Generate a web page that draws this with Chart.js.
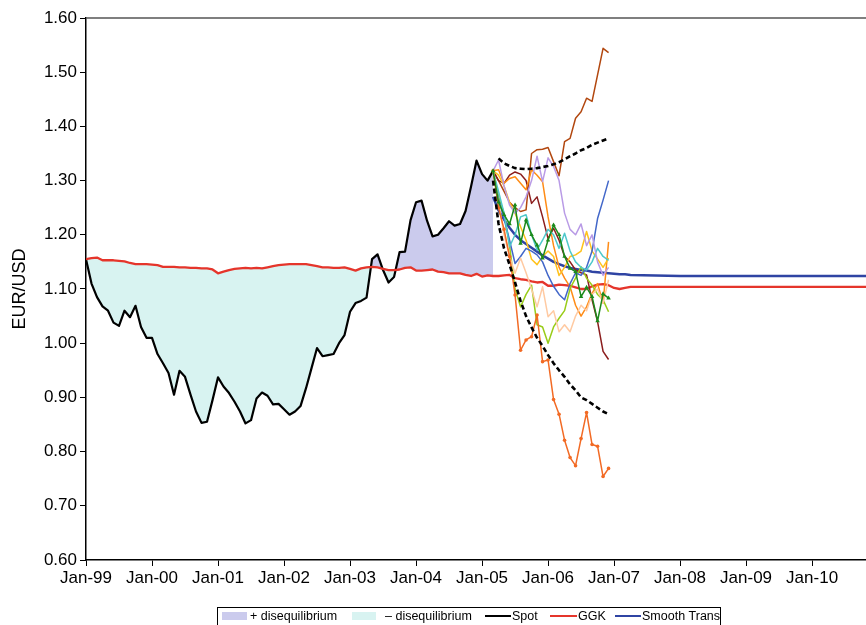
<!DOCTYPE html>
<html>
<head>
<meta charset="utf-8">
<script src="https://cdn.jsdelivr.net/npm/chart.js@4/dist/chart.umd.min.js"></script>
<style>
  html, body { margin: 0; padding: 0; background: #fff; }
  #wrap { width: 866px; height: 625px; }
</style>
</head>
<body>
<div id="wrap"><canvas id="c" width="866" height="625"></canvas></div>
<script>
// x axis: months counted from Jan-99
const tickLabels = ['Jan-99','Jan-00','Jan-01','Jan-02','Jan-03','Jan-04','Jan-05','Jan-06','Jan-07','Jan-08','Jan-09','Jan-10'];
const keyLabels = ['+ disequilibrium', '\u2013 disequilibrium', 'Spot', 'GGK', 'Smooth Trans'];

// EUR/USD spot, monthly Jan-99 .. Mar-05
const spot = [
  1.155, 1.110, 1.085, 1.068, 1.060, 1.038, 1.032, 1.060, 1.048, 1.069, 1.030, 1.010,
  1.010, 0.980, 0.963, 0.945, 0.905, 0.949, 0.938, 0.905, 0.874, 0.853, 0.855, 0.895,
  0.937, 0.920, 0.908, 0.892, 0.874, 0.852, 0.858, 0.898, 0.909, 0.903, 0.887, 0.888,
  0.878, 0.868, 0.874, 0.884, 0.917, 0.954, 0.991, 0.976, 0.978, 0.980, 1.000, 1.015,
  1.058, 1.074, 1.078, 1.084, 1.155, 1.164, 1.135, 1.112, 1.122, 1.168, 1.169, 1.227,
  1.260, 1.263, 1.226, 1.197, 1.200, 1.212, 1.225, 1.217, 1.220, 1.244, 1.289, 1.337,
  1.312, 1.300, 1.318
];

// GGK equilibrium, monthly from Jan-99, then a flat tail
const ggk = [
  1.155, 1.157, 1.158, 1.153, 1.153, 1.153, 1.152, 1.151, 1.148, 1.146, 1.146, 1.146,
  1.145, 1.144, 1.141, 1.141, 1.141, 1.140, 1.140, 1.139, 1.139, 1.138, 1.138, 1.136,
  1.129, 1.132, 1.135, 1.137, 1.138, 1.139, 1.138, 1.139, 1.138, 1.140, 1.142, 1.144,
  1.145, 1.146, 1.146, 1.146, 1.146, 1.144, 1.142, 1.140, 1.140, 1.139, 1.139, 1.140,
  1.137, 1.134, 1.138, 1.140, 1.141, 1.140, 1.137, 1.135, 1.135, 1.136, 1.139, 1.140,
  1.134, 1.134, 1.135, 1.136, 1.132, 1.131, 1.129, 1.129, 1.129, 1.126, 1.124, 1.128,
  1.123, 1.125, 1.124, 1.124, 1.125, 1.126, 1.120, 1.118, 1.117, 1.114, 1.112, 1.113,
  1.106, 1.106, 1.108, 1.107, 1.106, 1.103, 1.100, 1.100, 1.105, 1.108, 1.109, 1.107,
  1.102, 1.100, 1.102, 1.104
];
const ggkTailMonths = [142];
const ggkTailValues = [1.104];

// Smooth transition forecast, monthly from Mar-05, then its tail
const smoothStart = 74;
const smooth = [
  1.270, 1.245, 1.228, 1.213, 1.200, 1.190, 1.183, 1.176, 1.169, 1.162, 1.156, 1.150,
  1.146, 1.142, 1.139, 1.137, 1.135, 1.134, 1.132, 1.131, 1.130, 1.129, 1.128, 1.127,
  1.127, 1.126
];
const smoothTailMonths = [108, 142];
const smoothTailValues = [1.124, 1.124];

// Simulated paths, monthly Mar-05 .. Dec-06
const pathStart = 74;
const pathSienna    = [1.318,1.300,1.280,1.260,1.250,1.243,1.246,1.350,1.357,1.358,1.361,1.335,1.309,1.372,1.378,1.415,1.427,1.452,1.446,1.495,1.544,1.536];
const pathLavender  = [1.318,1.338,1.290,1.255,1.240,1.250,1.270,1.300,1.345,1.298,1.342,1.326,1.300,1.240,1.210,1.200,1.220,1.180,1.200,1.150,1.125,1.140];
const pathMaroon    = [1.318,1.300,1.295,1.310,1.316,1.312,1.300,1.258,1.270,1.233,1.193,1.212,1.190,1.160,1.150,1.135,1.130,1.126,1.080,1.040,0.985,0.970];
const pathOrange    = [1.318,1.320,1.295,1.304,1.307,1.295,1.283,1.320,1.310,1.298,1.233,1.180,1.140,1.120,1.104,1.070,1.050,1.067,1.092,1.110,1.074,1.187];
const pathGold      = [1.318,1.310,1.290,1.260,1.240,1.215,1.190,1.155,1.145,1.160,1.170,1.160,1.125,1.140,1.160,1.163,1.170,1.206,1.170,1.155,1.140,1.157];
const pathGreen     = [1.318,1.260,1.237,1.220,1.255,1.184,1.227,1.200,1.181,1.157,1.190,1.218,1.200,1.160,1.138,1.132,1.086,1.103,1.086,1.041,1.091,1.083];
const pathTurquoise = [1.318,1.280,1.240,1.178,1.200,1.233,1.237,1.200,1.172,1.190,1.210,1.200,1.175,1.203,1.170,1.150,1.140,1.135,1.150,1.175,1.160,1.153];
const pathRoyal     = [1.318,1.265,1.230,1.190,1.147,1.160,1.175,1.170,1.163,1.150,1.125,1.105,1.090,1.080,1.110,1.130,1.125,1.140,1.170,1.230,1.264,1.300];
const pathPeach     = [1.318,1.260,1.200,1.160,1.129,1.157,1.130,1.100,1.067,1.104,1.049,1.060,1.021,1.034,1.021,1.050,1.070,1.060,1.090,1.100,1.074,1.117];
const pathLime      = [1.318,1.270,1.240,1.180,1.100,1.067,1.090,1.107,1.034,1.030,1.000,1.030,1.046,1.060,1.101,1.120,1.141,1.120,1.107,1.090,1.080,1.058];
const pathRed       = [1.318,1.250,1.210,1.160,1.089,0.987,1.006,1.012,1.052,0.966,0.969,0.896,0.869,0.821,0.789,0.774,0.824,0.872,0.813,0.810,0.754,0.769];

// Confidence bounds
const upperStart = 75;
const upperBound = [1.341,1.332,1.327,1.323,1.322,1.321,1.322,1.323,1.325,1.327,1.330,1.334,1.339,1.345,1.350,1.356,1.360,1.366,1.370,1.374,1.378];
const lowerStart = 74;
const lowerBound = [1.300,1.220,1.175,1.145,1.112,1.078,1.050,1.029,1.010,0.995,0.978,0.963,0.950,0.938,0.924,0.913,0.900,0.895,0.888,0.881,0.874,0.869];

const FONT = "'Liberation Sans', Arial, Helvetica, sans-serif";
const LAVENDER = 'rgb(203,203,237)';
const PALE_CYAN = 'rgb(216,243,241)';
const RED = '#e5352b';
const NAVY = '#2f44a3';

const pts = (start, arr) => arr.map((v, i) => ({ x: start + i, y: v }));
const withTail = (start, arr, tm, tv) => pts(start, arr).concat(tm.map((m, i) => ({ x: m, y: tv[i] })));

function pathSet(data, color, extra) {
  return Object.assign({
    data: pts(pathStart, data),
    borderColor: color,
    backgroundColor: color,
    borderWidth: 1.5,
    pointRadius: 0,
    fill: false,
    order: 20
  }, extra || {});
}

const datasets = [
  {
    label: 'Spot',
    data: pts(0, spot),
    borderColor: '#000',
    borderWidth: 2.2,
    pointRadius: 0,
    fill: { target: 1, above: LAVENDER, below: PALE_CYAN },
    order: 100
  },
  {
    label: 'GGK',
    data: withTail(0, ggk, ggkTailMonths, ggkTailValues),
    borderColor: RED,
    borderWidth: 2.3,
    pointRadius: 0,
    fill: false,
    order: 90
  },
  {
    label: 'Smooth Trans',
    data: withTail(smoothStart, smooth, smoothTailMonths, smoothTailValues),
    borderColor: NAVY,
    borderWidth: 2.5,
    pointRadius: 0,
    fill: false,
    order: 80
  },
  pathSet(pathPeach, '#ffcaa2'),
  pathSet(pathLavender, '#b99be6'),
  pathSet(pathTurquoise, '#4ec8cb'),
  pathSet(pathRoyal, '#4267c9'),
  pathSet(pathGold, '#ffc21c'),
  pathSet(pathLime, '#99cc18'),
  pathSet(pathOrange, '#ff8c16'),
  pathSet(pathMaroon, '#8b1d1d'),
  pathSet(pathSienna, '#b2470f'),
  pathSet(pathGreen, '#1b8a1b', { pointRadius: 2.6, pointStyle: 'triangle', pointBorderWidth: 0, order: 15 }),
  pathSet(pathRed, '#f26a24', { pointRadius: 1.8, pointBorderWidth: 0, order: 15 }),
  {
    data: pts(upperStart, upperBound),
    borderColor: '#000',
    borderWidth: 2.6,
    borderDash: [5, 3],
    pointRadius: 0,
    fill: false,
    order: 5
  },
  {
    data: pts(lowerStart, lowerBound),
    borderColor: '#000',
    borderWidth: 2.6,
    borderDash: [5, 3],
    pointRadius: 0,
    fill: false,
    order: 5
  }
];

// Let the plot run right up to the canvas edge
const fullWidthPlot = {
  id: 'fullWidthPlot',
  afterLayout(chart) {
    const x = chart.scales.x;
    const edge = chart.width;
    const extra = edge - x.right;
    if (extra > 0) {
      x.right = edge;
      x.width += extra;
      x.configure();
      chart.chartArea.right = edge;
      chart.chartArea.width += extra;
    }
  }
};

// Plot frame top line and the boxed key under the axis
const frameAndKey = {
  id: 'frameAndKey',
  afterDraw(chart) {
    const { ctx, chartArea } = chart;
    ctx.save();
    ctx.strokeStyle = '#555';
    ctx.lineWidth = 1.5;
    ctx.beginPath();
    ctx.moveTo(chartArea.left, chartArea.top);
    ctx.lineTo(chartArea.right, chartArea.top);
    ctx.stroke();

    ctx.strokeStyle = '#000';
    ctx.lineWidth = 1;
    ctx.strokeRect(217.5, 607.5, 503, 30);

    const cy = 616;
    const swatches = [
      { kind: 'box', color: LAVENDER, x0: 222, x1: 247, tx: 250 },
      { kind: 'box', color: PALE_CYAN, x0: 352, x1: 376, tx: 385 },
      { kind: 'line', color: '#000', x0: 485, x1: 511, tx: 512 },
      { kind: 'line', color: RED, x0: 550, x1: 577, tx: 578 },
      { kind: 'line', color: NAVY, x0: 615, x1: 641, tx: 642 }
    ];
    ctx.font = '12.5px ' + FONT;
    ctx.textBaseline = 'middle';
    swatches.forEach((s, i) => {
      if (s.kind === 'box') {
        ctx.fillStyle = s.color;
        ctx.fillRect(s.x0, cy - 4, s.x1 - s.x0, 8);
      } else {
        ctx.strokeStyle = s.color;
        ctx.lineWidth = 2;
        ctx.beginPath();
        ctx.moveTo(s.x0, cy);
        ctx.lineTo(s.x1, cy);
        ctx.stroke();
      }
      ctx.fillStyle = '#000';
      ctx.fillText(keyLabels[i], s.tx, cy + 0.5);
    });
    ctx.restore();
  }
};

new Chart(document.getElementById('c'), {
  type: 'line',
  data: { datasets },
  plugins: [fullWidthPlot, frameAndKey],
  options: {
    responsive: false,
    animation: false,
    devicePixelRatio: 1,
    layout: { padding: { top: 18, left: 0, right: 0, bottom: 0 } },
    elements: { line: { tension: 0, borderJoinStyle: 'round' } },
    plugins: { legend: { display: false }, tooltip: { enabled: false } },
    scales: {
      x: {
        type: 'linear',
        min: 0,
        max: 141.8,
        afterBuildTicks: (s) => { s.ticks = tickLabels.map((_, i) => ({ value: i * 12 })); },
        afterFit: (s) => { s.height = 65; },
        ticks: {
          autoSkip: false,
          maxRotation: 0,
          includeBounds: false,
          padding: 2,
          color: '#000',
          font: { family: FONT, size: 17 },
          callback: (v) => tickLabels[Math.round(v / 12)]
        },
        grid: { drawOnChartArea: false, drawTicks: true, tickLength: 6, color: '#000' },
        border: { color: '#000', width: 1.5 }
      },
      y: {
        min: 0.6,
        max: 1.6,
        afterFit: (s) => { s.width = 86; },
        ticks: {
          stepSize: 0.1,
          padding: 3,
          color: '#000',
          font: { family: FONT, size: 17 },
          callback: (v) => v.toFixed(2)
        },
        grid: { drawOnChartArea: false, drawTicks: true, tickLength: 6, color: '#000' },
        border: { color: '#000', width: 1.5 },
        title: {
          display: true,
          text: 'EUR/USD',
          color: '#000',
          font: { family: FONT, size: 18 },
          padding: { top: 9, bottom: 0 }
        }
      }
    }
  }
});
</script>
</body>
</html>
